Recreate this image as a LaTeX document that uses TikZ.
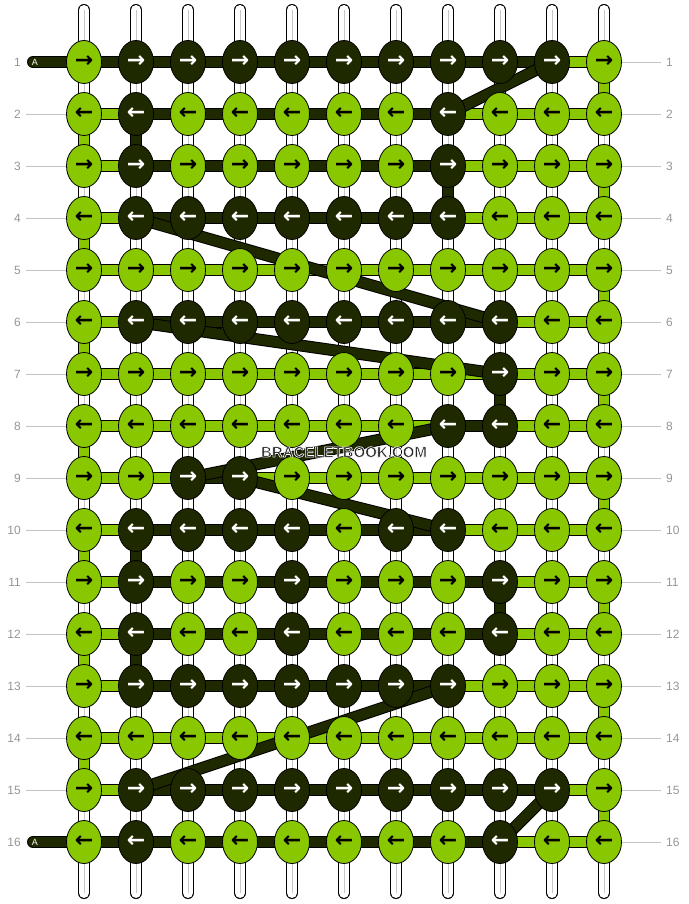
\documentclass[tikz,border=0pt]{standalone}
\usepackage{fontspec}
\setmainfont{Liberation Sans}
\newfontfamily\arrfont{DejaVu Sans}
\usetikzlibrary{shapes.geometric,
                  backgrounds}
\definecolor{cL}{RGB}{137,200,0}
\definecolor{cD}{RGB}{31,41,0}
\colorlet{aL}{black}
\colorlet{aD}{white}
\definecolor{labgray}{RGB}{150,150,150}
\definecolor{linegray}{RGB}{195,195,195}
% one row of knots: row, arrow, colours
\newcommand{\knotrow}[3]{%
  \foreach \kc [count=\ci] in {#3} {
    \pgfmathsetmacro\kx{32+52*\ci}
    \pgfmathsetmacro\ky{10+52*#1}
    \node[knot, fill=c\kc, text=a\kc] (k-#1-\ci) at (\kx,\ky) {#2};
  }}
% one row of links: row, colours
\newcommand{\linkrow}[2]{%
  \foreach \kc [count=\ci] in {#2} {
    \pgfmathtruncatemacro\cn{\ci+1}
    \draw[bar, double=c\kc] (k-#1-\ci.center) -- (k-#1-\cn.center);
  }}
% text with a white rim (fill and stroke)
\newcommand{\halotext}[1]{\leavevmode
  \special{pdf:literal direct 1 G 0.6 w 1 j 2 Tr}#1\special{pdf:literal direct 0 Tr}}

\begin{document}
\begin{tikzpicture}[x=1pt, y=-1pt]
    \tikzset{
    knot/.style={draw, shape=ellipse, line width=0.8pt, minimum width=35pt, minimum height=43pt, inner sep=0pt, font=\arrfont\bfseries\fontsize{22}{22}\selectfont},
    bar/.style={line width=1pt, double distance=10pt},
    strng/.style={line width=1pt, double=white, double distance=10pt, line cap=round},
    strmid/.style={draw=black!22, line width=0.8pt},
    rowlab/.style={text=labgray, font=\fontsize{12}{12}\selectfont, inner sep=0pt},
    rowline/.style={draw=linegray, line width=0.8pt},
    tabA/.style={text=white, font=\fontsize{9}{9}\selectfont, inner sep=0pt},
    wmark/.style={text=black!85, font=\bfseries\fontsize{15}{15}\selectfont, inner sep=0pt}
}
\useasboundingbox (0,0) rectangle (688,904);

% knots
\knotrow{1}{→}{L,D,D,D,D,D,D,D,D,D,L}
\knotrow{2}{←}{L,D,L,L,L,L,L,D,L,L,L}
\knotrow{3}{→}{L,D,L,L,L,L,L,D,L,L,L}
\knotrow{4}{←}{L,D,D,D,D,D,D,D,L,L,L}
\knotrow{5}{→}{L,L,L,L,L,L,L,L,L,L,L}
\knotrow{6}{←}{L,D,D,D,D,D,D,D,D,L,L}
\knotrow{7}{→}{L,L,L,L,L,L,L,L,D,L,L}
\knotrow{8}{←}{L,L,L,L,L,L,L,D,D,L,L}
\knotrow{9}{→}{L,L,D,D,L,L,L,L,L,L,L}
\knotrow{10}{←}{L,D,D,D,D,L,D,D,L,L,L}
\knotrow{11}{→}{L,D,L,L,D,L,L,L,D,L,L}
\knotrow{12}{←}{L,D,L,L,D,L,L,L,D,L,L}
\knotrow{13}{→}{L,D,D,D,D,D,D,D,L,L,L}
\knotrow{14}{←}{L,L,L,L,L,L,L,L,L,L,L}
\knotrow{15}{→}{L,D,D,D,D,D,D,D,D,D,L}
\knotrow{16}{←}{L,D,L,L,L,L,L,L,D,L,L}

\foreach \c in {1,...,11} {
  \pgfmathsetmacro\kx{32+52*\c}
  \coordinate (top-\c) at (\kx, 10);
  \coordinate (bot-\c) at (\kx, 893);
}
\foreach \r in {1,...,16} {
  \pgfmathsetmacro\ky{10+52*\r}
  \node[rowlab, anchor=east] (labl-\r) at (21, \ky) {\r};
  \node[rowlab, anchor=west] (labr-\r) at (666, \ky) {\r};
  \coordinate (ll-\r) at (26, \ky);
  \coordinate (lr-\r) at (661, \ky);
}
\coordinate (tabend-1) at (33, 62);
\coordinate (tabend-16) at (33, 842);
\node[tabA] (tabA-1) at (35, 62) {A};
\node[tabA] (tabA-16) at (35, 842) {A};

\node[wmark] (wm) at (344, 452) {\halotext{BRACELETBOOK.COM}};

\begin{pgfonlayer}{background}
\fill[white] (0,0) rectangle (688,904);
% strings
\foreach \c in {1,...,11} {
  \draw[strng] (top-\c) -- (bot-\c);
  \draw[strmid] (top-\c) -- (bot-\c);
}
\foreach \r in {2,...,15}
  \draw[rowline] (ll-\r) -- (k-\r-1.center);
\foreach \r in {1,...,16}
  \draw[rowline] (k-\r-11.center) -- (lr-\r);
\draw[bar, double=cD, line cap=round] (tabend-1) -- (k-1-1.center);
\draw[bar, double=cD, line cap=round] (tabend-16) -- (k-16-1.center);

% vertical links
\foreach \r in {2,4,...,14} {
  \pgfmathtruncatemacro\n{\r+1}
  \draw[bar, double=cL] (k-\r-1.center) -- (k-\n-1.center);
}
\foreach \r in {1,3,...,15} {
  \pgfmathtruncatemacro\n{\r+1}
  \draw[bar, double=cL] (k-\r-11.center) -- (k-\n-11.center);
}
\foreach \c/\r in {2/2, 8/3, 9/7, 2/10, 9/11, 2/12} {
  \pgfmathtruncatemacro\n{\r+1}
  \draw[bar, double=cD] (k-\r-\c.center) -- (k-\n-\c.center);
}

% horizontal links
\linkrow{1}{D,D,D,D,D,D,D,D,D,L}
\linkrow{2}{L,D,D,D,D,D,D,L,L,L}
\linkrow{3}{L,D,D,D,D,D,D,L,L,L}
\linkrow{4}{L,D,D,D,D,D,D,L,L,L}
\linkrow{5}{L,L,L,L,L,L,L,L,L,L}
\linkrow{6}{L,D,D,D,D,D,D,D,L,L}
\linkrow{7}{L,L,L,L,L,L,L,L,L,L}
\linkrow{8}{L,L,L,L,L,L,L,D,L,L}
\linkrow{9}{L,L,D,L,L,L,L,L,L,L}
\linkrow{10}{L,D,D,D,D,D,D,L,L,L}
\linkrow{11}{L,D,D,D,D,D,D,D,L,L}
\linkrow{12}{L,D,D,D,D,D,D,D,L,L}
\linkrow{13}{L,D,D,D,D,D,D,L,L,L}
\linkrow{14}{L,L,L,L,L,L,L,L,L,L}
\linkrow{15}{L,D,D,D,D,D,D,D,D,L}
\linkrow{16}{D,D,D,D,D,D,D,D,L,L}

% floats
\foreach \a/\b in {1-10/2-8, 4-2/6-9, 6-2/7-9, 9-3/8-8, 9-4/10-8, 13-8/15-2, 15-10/16-9}
  \draw[bar, double=cD] (k-\a.center) -- (k-\b.center);
\end{pgfonlayer}

\end{tikzpicture}
\end{document}
